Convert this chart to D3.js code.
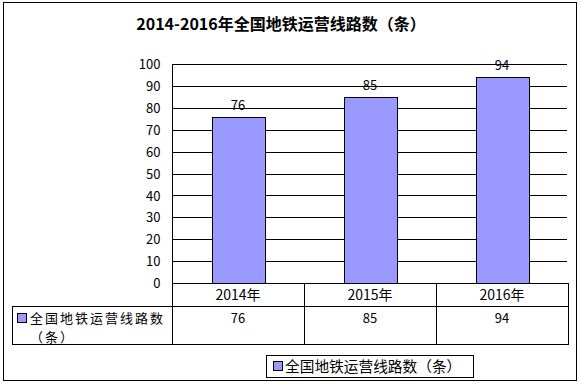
<!DOCTYPE html>
<html><head><meta charset="utf-8">
<script src="https://cdn.jsdelivr.net/npm/d3@7"></script>
<style>body{margin:0;background:#fff}svg{display:block}</style>
</head><body>
<svg id="c" width="580" height="384"></svg>
<script>
const title = "2014-2016年全国地铁运营线路数（条）";
const seriesName = "全国地铁运营线路数（条）";
const categories = ["2014年", "2015年", "2016年"];
const values = [76, 85, 94];
const yTicks = [0, 10, 20, 30, 40, 50, 60, 70, 80, 90, 100];

(function () {
const font = "'Noto Sans CJK SC', sans-serif";
const barColor = "#9999FF";
const svg = d3.select("#c");

// outer border
svg.append("rect").attr("x", 3.5).attr("y", 2.5).attr("width", 573).attr("height", 378)
  .attr("fill", "#fff").attr("stroke", "#000").attr("stroke-width", 1);

// title
svg.append("text").attr("x", 281).attr("y", 30).attr("text-anchor", "middle")
  .attr("font-family", font).attr("font-weight", "bold").attr("font-size", 16)
  .text(title);

const pL = 172, pR = 568, pT = 64, pB = 283;
const x = d3.scaleBand().domain(categories).range([pL, pR]).paddingInner(0).paddingOuter(0);
const y = d3.scaleLinear().domain([0, 100]).range([pB, pT]);
const bw = x.bandwidth() * 0.4;

// gridlines
svg.append("g").selectAll("line").data(yTicks.filter(d => d > 0)).join("line")
  .attr("x1", pL).attr("x2", pR - 1)
  .attr("y1", d => Math.round(y(d)) + 0.5).attr("y2", d => Math.round(y(d)) + 0.5)
  .attr("stroke", "#000");

// y axis labels
const yAxis = d3.axisLeft(y).tickValues(yTicks).tickSize(0).tickPadding(12);
const ga = svg.append("g").attr("transform", `translate(${pL + 0.5},0.5)`).call(yAxis);
ga.select(".domain").remove();
ga.selectAll("text").attr("font-family", font).attr("font-size", 13).attr("fill", "#000");

// bars
svg.append("g").selectAll("rect").data(values).join("rect")
  .attr("x", (d, i) => Math.round(x(categories[i]) + (x.bandwidth() - bw) / 2) + 0.5)
  .attr("y", d => Math.round(y(d)) + 0.5)
  .attr("width", Math.round(bw))
  .attr("height", d => Math.round(y(0)) - Math.round(y(d)))
  .attr("fill", barColor).attr("stroke", "#000").attr("stroke-width", 1);

// bar labels
svg.append("g").selectAll("text").data(values).join("text")
  .attr("x", (d, i) => x(categories[i]) + x.bandwidth() / 2)
  .attr("y", d => y(d) - 7)
  .attr("text-anchor", "middle").attr("font-family", font).attr("font-size", 13)
  .text(d => d);

// axis line (left)
svg.append("line").attr("x1", pL + 0.5).attr("x2", pL + 0.5).attr("y1", pT).attr("y2", 344)
  .attr("stroke", "#000");

// data table
const tLeft = 12, r1 = 283, r2 = 306, r3 = 344;
const tg = svg.append("g").attr("stroke", "#000").attr("fill", "none");
tg.append("line").attr("x1", pL).attr("x2", pR).attr("y1", r1 + 0.5).attr("y2", r1 + 0.5);
tg.append("line").attr("x1", tLeft).attr("x2", pR).attr("y1", r2 + 0.5).attr("y2", r2 + 0.5);
tg.append("line").attr("x1", tLeft).attr("x2", pR).attr("y1", r3 + 0.5).attr("y2", r3 + 0.5);
tg.append("line").attr("x1", tLeft + 0.5).attr("x2", tLeft + 0.5).attr("y1", r2).attr("y2", r3 + 1);
categories.forEach(c => {
  const xr = Math.round(x(c) + x.bandwidth()) + 0.5;
  tg.append("line").attr("x1", xr).attr("x2", xr).attr("y1", r1).attr("y2", r3 + 1);
});

svg.append("g").selectAll("text").data(categories).join("text")
  .attr("x", d => x(d) + x.bandwidth() / 2).attr("y", 300)
  .attr("text-anchor", "middle").attr("font-family", font).attr("font-size", 14)
  .text(d => d);

svg.append("g").selectAll("text").data(values).join("text")
  .attr("x", (d, i) => x(categories[i]) + x.bandwidth() / 2).attr("y", 323)
  .attr("text-anchor", "middle").attr("font-family", font).attr("font-size", 13)
  .text(d => d);

// series name in table
svg.append("rect").attr("x", 17.5).attr("y", 313.5).attr("width", 9).attr("height", 9)
  .attr("fill", barColor).attr("stroke", "#000");
svg.append("text").attr("x", 30).attr("y", 323).attr("font-family", font).attr("font-size", 13)
  .attr("letter-spacing", 2)
  .text(seriesName.slice(0, 9));
svg.append("text").attr("x", 30).attr("y", 342).attr("font-family", font).attr("font-size", 13)
  .attr("letter-spacing", 2)
  .text(seriesName.slice(9));

// legend
svg.append("rect").attr("x", 266.5).attr("y", 355.5).attr("width", 207).attr("height", 22)
  .attr("fill", "#fff").attr("stroke", "#000");
svg.append("rect").attr("x", 273.5).attr("y", 361.5).attr("width", 9).attr("height", 9)
  .attr("fill", barColor).attr("stroke", "#000");
svg.append("text").attr("x", 285).attr("y", 372).attr("font-family", font).attr("font-size", 14.7)
  .text(seriesName);
})();
</script>
</body></html>
